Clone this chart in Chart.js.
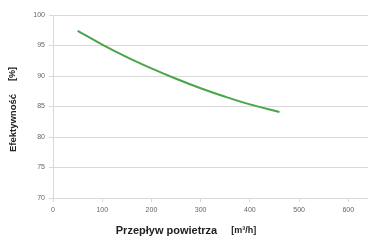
<!DOCTYPE html>
<html><head><meta charset="utf-8">
<script src="https://cdn.jsdelivr.net/npm/chart.js@4"></script>
<style>html,body{margin:0;padding:0;background:#fff}#w{width:368px;height:241px}</style>
</head><body><div id="w"><canvas id="c"></canvas></div>
<script>
const airflow = [50, 100, 150, 200, 250, 300, 350, 400, 460];
const efficiency = [97.4, 95.15, 93.1, 91.25, 89.55, 88.0, 86.6, 85.35, 84.1];
const xTicks = [0, 100, 200, 300, 400, 500, 600];
const yTicks = [70, 75, 80, 85, 90, 95, 100];
const xTitle = ['Przepływ powietrza', '[m³/h]'];
const yTitle = ['Efektywność', '[%]'];

const grid = '#d9d9d9';
const tickFont = {family: 'Liberation Sans', size: 7};

function drawParts(ctx, parts, sizes, gap) {
  const fonts = sizes.map(s => 'bold ' + s + 'px "Liberation Sans"');
  const widths = parts.map((p, i) => { ctx.font = fonts[i]; return ctx.measureText(p).width; });
  const total = widths.reduce((a, b) => a + b, 0) + gap;
  let x = -total / 2;
  parts.forEach((p, i) => {
    ctx.font = fonts[i];
    ctx.fillText(p, x, 0);
    x += widths[i] + gap;
  });
}
const titles = {
  id: 'titles',
  afterDraw(chart) {
    const ctx = chart.ctx, a = chart.chartArea;
    ctx.save();
    ctx.fillStyle = '#222';
    ctx.textBaseline = 'middle';
    ctx.textAlign = 'left';
    ctx.save();
    ctx.translate(a.left + 133, a.bottom + 33);
    drawParts(ctx, xTitle, [11, 9], 14);
    ctx.restore();
    ctx.save();
    ctx.translate(13, (a.top + a.bottom) / 2 + 3);
    ctx.rotate(-Math.PI / 2);
    drawParts(ctx, yTitle, [9.5, 9], 13);
    ctx.restore();
    ctx.restore();
  }
};

new Chart(document.getElementById('c'), {
  type: 'line',
  data: {datasets: [{
    data: airflow.map((x, i) => ({x, y: efficiency[i]})),
    borderColor: '#4aa44a', borderWidth: 2, pointRadius: 0, tension: 0.4, fill: false
  }]},
  options: {
    responsive: true, maintainAspectRatio: false, animation: false,
    layout: {padding: {top: 15, right: 0, left: 0, bottom: 0}},
    plugins: {legend: {display: false}, tooltip: {enabled: false}},
    scales: {
      x: {
        type: 'linear', min: 0, max: 640,
        afterBuildTicks: s => { s.ticks = xTicks.map(v => ({value: v})); },
        afterFit: s => { s.height = 43; },
        ticks: {font: tickFont, color: '#666', padding: 4, maxRotation: 0},
        grid: {drawOnChartArea: false, color: grid, tickLength: 4},
        border: {color: grid}
      },
      y: {
        min: 70, max: 100,
        afterBuildTicks: s => { s.ticks = yTicks.map(v => ({value: v})); },
        afterFit: s => { s.width = 53; },
        ticks: {font: tickFont, color: '#666', padding: 4},
        grid: {color: grid, tickLength: 4},
        border: {color: grid}
      }
    }
  },
  plugins: [titles]
});
</script></body></html>
